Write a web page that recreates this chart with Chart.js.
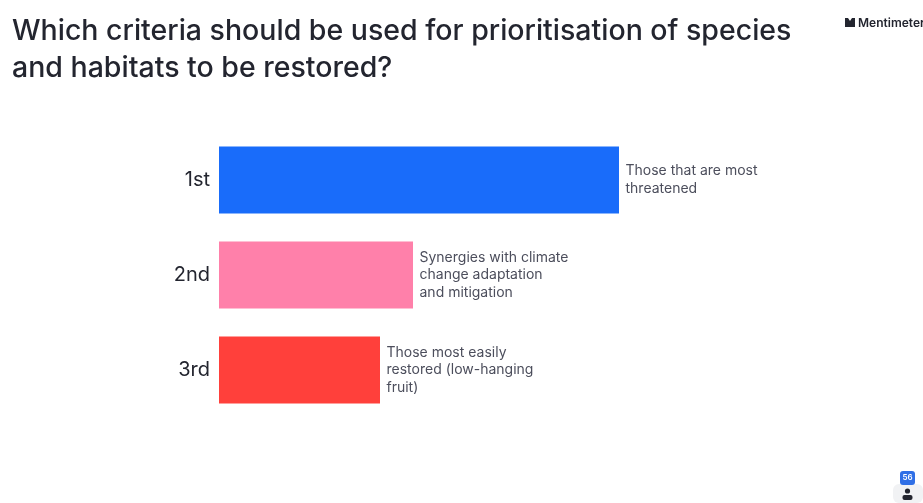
<!DOCTYPE html>
<html>
<head>
<meta charset="utf-8">
<title>Prioritisation criteria</title>
<script src="https://cdn.jsdelivr.net/npm/chart.js@4"></script>
<style>
    html, body { margin: 0; padding: 0; background: #fff; }
    canvas { display: block; }
</style>
</head>
<body>
<canvas id="ranking" width="923" height="503"></canvas>
<script>
const titleLines = ['Which criteria should be used for prioritisation of species', 'and habitats to be restored?'];
const ranks = ['1st', '2nd', '3rd'];
const scores = [100, 48.5, 40.25];
const answers = [
    ['Those that are most', 'threatened'],
    ['Synergies with climate', 'change adaptation', 'and mitigation'],
    ['Those most easily', 'restored (low-hanging', 'fruit)']
];
const barColors = ['#196cfa', '#ff80aa', '#ff403b'];
const respondents = '56';

const fontName = 'Inter, sans-serif';

// answer text sits just right of each bar's end
const answerLabels = {
    id: 'answerLabels',
    afterDatasetsDraw(chart) {
        const ctx = chart.ctx;
        ctx.save();
        ctx.font = '14px ' + fontName;
        ctx.fillStyle = '#4c4e5c';
        ctx.textAlign = 'left';
        ctx.textBaseline = 'middle';
        chart.getDatasetMeta(0).data.forEach((bar, i) => {
            const lines = answers[i];
            const top = bar.y - (lines.length - 1) * 17.5 / 2;
            lines.forEach((line, n) => {
                ctx.fillText(line, bar.x + 6.5, top + n * 17.5);
            });
        });
        ctx.restore();
    }
};

// logo in the corner and the respondent badge
const slideFurniture = {
    id: 'slideFurniture',
    afterDraw(chart) {
        const ctx = chart.ctx;
        ctx.save();

        ctx.fillStyle = '#23252f';
        ctx.beginPath();
        ctx.moveTo(845, 18);
        ctx.lineTo(848, 18);
        ctx.lineTo(850, 21);
        ctx.lineTo(852, 18);
        ctx.lineTo(855, 18);
        ctx.lineTo(855, 27);
        ctx.lineTo(845, 27);
        ctx.closePath();
        ctx.fill();
        ctx.font = '600 12px ' + fontName;
        ctx.textAlign = 'left';
        ctx.textBaseline = 'middle';
        ctx.fillText('Mentimeter', 858, 23);

        ctx.fillStyle = '#f1f2f4';
        ctx.beginPath();
        ctx.roundRect(893, 484, 30, 19, 6);
        ctx.fill();
        ctx.fillStyle = '#2f6fe6';
        ctx.beginPath();
        ctx.roundRect(900, 471, 15, 14, 3);
        ctx.fill();
        ctx.fillStyle = '#fff';
        ctx.font = '600 8px ' + fontName;
        ctx.textAlign = 'center';
        ctx.fillText(respondents, 907.5, 478);

        ctx.fillStyle = '#23252f';
        ctx.beginPath();
        ctx.arc(907.5, 491, 2.6, 0, Math.PI * 2);
        ctx.fill();
        ctx.beginPath();
        ctx.roundRect(902.5, 495, 10, 5, 2);
        ctx.fill();
        ctx.restore();
    }
};

new Chart(document.getElementById('ranking'), {
    type: 'bar',
    data: {
        labels: ranks,
        datasets: [{
            data: scores,
            backgroundColor: barColors,
            borderWidth: 0,
            barPercentage: 0.705,
            categoryPercentage: 1
        }]
    },
    options: {
        indexAxis: 'y',
        responsive: false,
        animation: false,
        layout: { padding: { left: 12, right: 0, top: 0, bottom: 85.5 } },
        scales: {
            x: { display: false, min: 0, max: 176 },
            y: {
                grid: { display: false },
                border: { display: false },
                ticks: {
                    color: '#23252f',
                    font: { family: fontName, size: 20 },
                    padding: 1
                },
                afterFit(axis) { axis.width = 207; }
            }
        },
        plugins: {
            legend: { display: false },
            tooltip: { enabled: false },
            title: {
                display: true,
                text: titleLines,
                align: 'start',
                color: '#23252f',
                font: { family: fontName, size: 28.5, weight: '500', lineHeight: 1.32 },
                padding: { top: 12.2, bottom: 45 }
            }
        }
    },
    plugins: [answerLabels, slideFurniture]
});
</script>
</body>
</html>
